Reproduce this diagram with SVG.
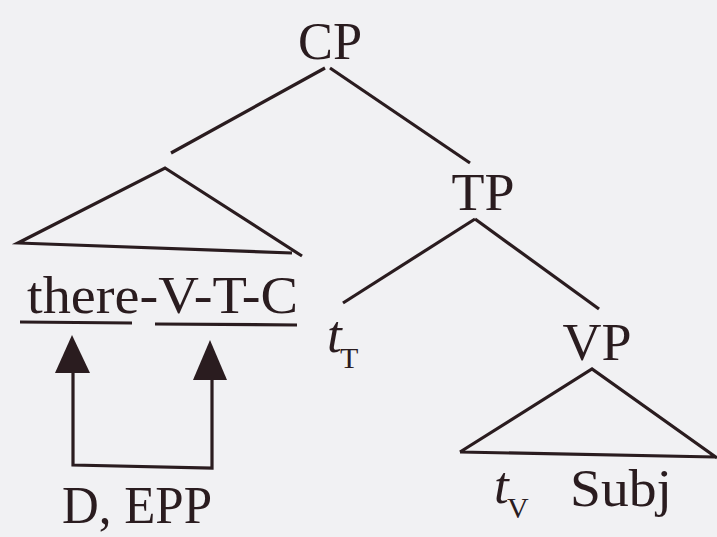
<svg xmlns="http://www.w3.org/2000/svg" width="717" height="537" viewBox="0 0 717 537">
<style>
.t{font-family:"Liberation Serif","Times New Roman",serif;fill:#2a1c1f;font-size:53px}
.i{font-style:italic}
.s{font-size:30px}
.ln{stroke:#2a1c1f;stroke-width:3.2;fill:none;stroke-linecap:butt;stroke-linejoin:miter}
.ah{fill:#2a1c1f}
</style>
<rect width="717" height="537" fill="#f1f1f3"/>
<g id="CP"><text class="t" x="330" y="59" text-anchor="middle" textLength="64" lengthAdjust="spacingAndGlyphs">CP</text></g>
<g id="TP"><text class="t" x="483" y="210" text-anchor="middle" textLength="63" lengthAdjust="spacingAndGlyphs">TP</text></g>
<g id="spec">
<path class="ln" d="M292,253 L18,243 L165,168 L302,256"/>
<text class="t" x="27" y="313" textLength="271" lengthAdjust="spacingAndGlyphs">there-V-T-C</text>
<line class="ln" x1="20" y1="322" x2="132" y2="323"/>
<line class="ln" x1="155" y1="324" x2="297" y2="325"/>
</g>
<g id="tT"><text class="t i" x="327" y="352">t</text><text class="t s" x="340" y="368">T</text></g>
<g id="VP"><text class="t" x="597" y="360" text-anchor="middle" textLength="69" lengthAdjust="spacingAndGlyphs">VP</text>
<path class="ln" d="M460,452 L592,369 L717,458 M460,452 L715,457"/></g>
<g id="tV"><text class="t i" x="494" y="503">t</text><text class="t s" x="507" y="518">V</text></g>
<g id="Subj"><text class="t" x="570" y="506" textLength="102" lengthAdjust="spacingAndGlyphs">Subj</text></g>
<g id="DEPP"><text class="t" x="62" y="523" textLength="150" lengthAdjust="spacingAndGlyphs">D, EPP</text></g>
<g id="connectors">
<line class="ln" x1="325" y1="68" x2="171" y2="153"/>
<line class="ln" x1="330" y1="68" x2="470" y2="163"/>
<line class="ln" x1="475" y1="219" x2="343" y2="303"/>
<line class="ln" x1="475" y1="219" x2="599" y2="309"/>
<path class="ln" d="M73,372 L73,465 L212,468 L212,378"/>
<polygon class="ah" points="72,335 55,373 90,373"/>
<polygon class="ah" points="210,340 193,380 227,380"/>
</g>
</svg>
